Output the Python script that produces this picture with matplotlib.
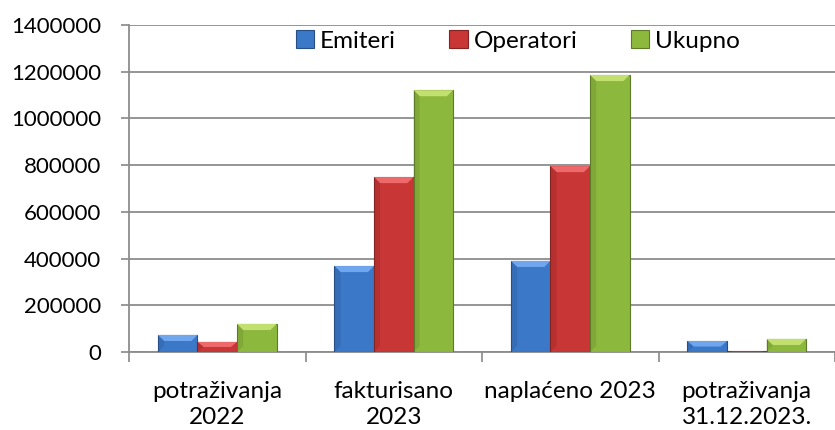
import matplotlib
matplotlib.use('Agg')
import matplotlib.pyplot as plt
from matplotlib.patches import Polygon
import numpy as np

# values
categories = ['potraživanja\n2022', 'fakturisano\n2023', 'naplaćeno 2023', 'potraživanja\n31.12.2023.']
emiteri = [73000, 368000, 390000, 47000]
operatori = [43000, 749000, 796000, 3000]
ukupno = [120000, 1121000, 1186000, 56000]
series = [('Emiteri', emiteri), ('Operatori', operatori), ('Ukupno', ukupno)]
colors = ['#3C78C8', '#C93636', '#8DB83E']
light = ['#6FA6EE', '#EE6A6A', '#C2E070']
dark = ['#274F86', '#852222', '#5C7A27']
yticks = [0, 200000, 400000, 600000, 800000, 1000000, 1200000, 1400000]

plt.rcParams['font.family'] = ['Lato', 'DejaVu Sans']

fig = plt.figure(figsize=(8.35, 4.3), dpi=100)
ax = fig.add_axes([0.1545, 0.1814, 0.8455, 0.7605])

x = np.arange(len(categories))
w = 0.224
for i, (name, vals) in enumerate(series):
    bars = ax.bar(x + (i - 1) * w, vals, w, color=colors[i], edgecolor=dark[i],
                  linewidth=0.8, label=name, zorder=3)
    # simple bevel: lighter cap on top, darker strip on the left side
    for r in bars:
        x0, h, bw = r.get_x(), r.get_height(), r.get_width()
        bx = 0.035
        by = min(26000, h / 2)
        top = Polygon([(x0, h), (x0 + bw, h), (x0 + bw - bx, h - by), (x0 + bx, h - by)],
                      closed=True, facecolor=light[i], edgecolor='none', zorder=4)
        ax.add_patch(top)
        side = Polygon([(x0, h), (x0 + bx, h - by), (x0 + bx, by), (x0, 0)],
                       closed=True, facecolor=dark[i], alpha=0.25, edgecolor='none', zorder=4)
        ax.add_patch(side)

ax.set_xlim(-0.5, 3.455)
ax.set_ylim(0, 1400000)
ax.set_yticks(yticks)
ax.set_yticklabels([str(v) for v in yticks])
ax.set_xticks(x)
ax.set_xticklabels(categories, linespacing=1.3)
ax.set_xticks(np.arange(-0.5, 4, 1), minor=True)
ax.tick_params(axis='x', which='major', length=0, pad=21, labelsize=17.5)
ax.tick_params(axis='x', which='minor', length=7, color='#888888', width=1.2)
ax.tick_params(axis='y', length=6, color='#888888', width=1.2, pad=14, labelsize=16)

ax.grid(axis='y', color='#8C8C8C', linewidth=1.3, zorder=0)
ax.set_axisbelow(True)
for s in ['top', 'right']:
    ax.spines[s].set_visible(False)
for s in ['left', 'bottom']:
    ax.spines[s].set_color('#8C8C8C')
    ax.spines[s].set_linewidth(1.3)

ax.legend(loc='center', bbox_to_anchor=(0.551, 0.951), ncol=3, frameon=False,
          fontsize=17.5, handlelength=0.75, handleheight=0.75, handletextpad=0.25,
          columnspacing=2.2, borderaxespad=0)

fig.savefig('out.png', dpi=100)
